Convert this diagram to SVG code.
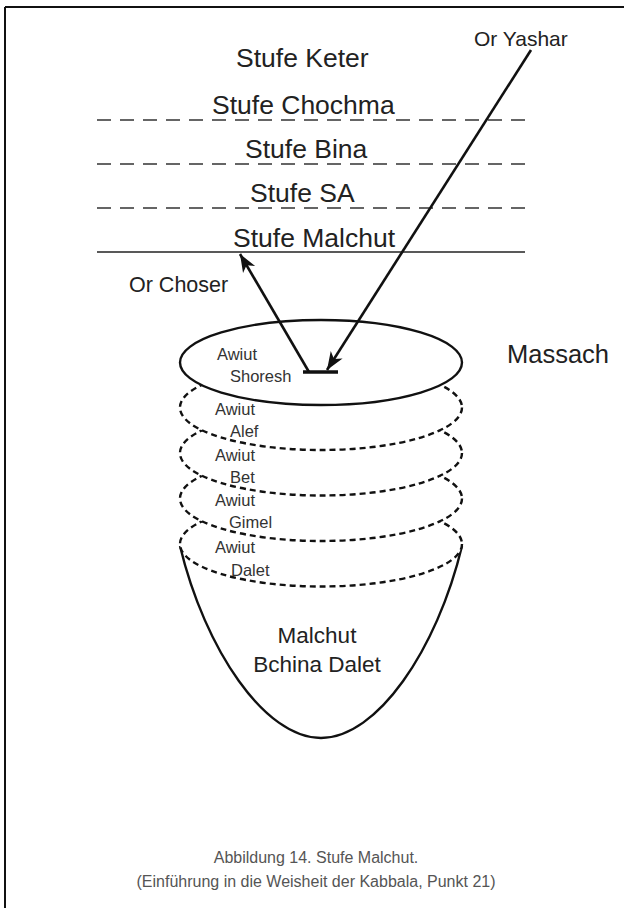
<svg xmlns="http://www.w3.org/2000/svg" width="624" height="908" viewBox="0 0 624 908">
<style>
text{font-family:"Liberation Sans",Arial,sans-serif;fill:#222}
.lvl{font-size:26.5px}
.sm{font-size:16.5px;fill:#333}
.cap{font-size:16px;fill:#555;text-anchor:middle}
.dash{stroke:#333;stroke-width:1.6;stroke-dasharray:14 9;fill:none}
.ring{fill:#fff;stroke:#111;stroke-width:2.4;stroke-dasharray:6 4}
.arr{stroke:#111;stroke-width:2.6;fill:none}
</style>
<defs>
<marker id="ah" markerUnits="userSpaceOnUse" viewBox="-20 -10 22 20" refX="0" refY="0" markerWidth="22" markerHeight="20" orient="auto">
<path d="M0,0 L-18,-7 L-13,0 L-18,7 Z" fill="#111"/>
</marker>
</defs>
<g id="frame">
<line x1="5" y1="7" x2="624" y2="7" stroke="#111" stroke-width="2"/>
<line x1="5" y1="7" x2="5" y2="908" stroke="#111" stroke-width="2"/>
</g>
<g id="levels">
<text class="lvl" x="236" y="67">Stufe Keter</text>
<text class="lvl" x="212" y="114">Stufe Chochma</text>
<line class="dash" x1="97" y1="120" x2="525" y2="120"/>
<text class="lvl" x="245" y="158">Stufe Bina</text>
<line class="dash" x1="97" y1="164" x2="525" y2="164"/>
<text class="lvl" x="250" y="202">Stufe SA</text>
<line class="dash" x1="97" y1="208" x2="525" y2="208"/>
<text class="lvl" x="233" y="247">Stufe Malchut</text>
<line x1="97" y1="252" x2="525" y2="252" stroke="#222" stroke-width="1.6"/>
</g>
<g id="bowl">
<path d="M180,546 C205,650 265,738 321,738 C377,738 437,650 462,546" fill="none" stroke="#111" stroke-width="2.4"/>
<text x="317" y="643" style="font-size:22.5px;text-anchor:middle">Malchut</text>
<text x="317" y="672" style="font-size:22.5px;text-anchor:middle">Bchina Dalet</text>
</g>
<g id="ring-dalet">
<ellipse class="ring" cx="321" cy="544" rx="141" ry="42.5"/>
<text class="sm" x="215" y="553">Awiut</text>
<text class="sm" x="231" y="576">Dalet</text>
</g>
<g id="ring-gimel">
<ellipse class="ring" cx="321" cy="498.5" rx="141" ry="42.5"/>
<text class="sm" x="215" y="506">Awiut</text>
<text class="sm" x="229" y="528">Gimel</text>
</g>
<g id="ring-bet">
<ellipse class="ring" cx="321" cy="453" rx="141" ry="42.5"/>
<text class="sm" x="215" y="461">Awiut</text>
<text class="sm" x="230" y="483">Bet</text>
</g>
<g id="ring-alef">
<ellipse class="ring" cx="321" cy="407.5" rx="141" ry="42.5"/>
<text class="sm" x="215" y="415">Awiut</text>
<text class="sm" x="230" y="437">Alef</text>
</g>
<g id="shoresh">
<ellipse cx="321" cy="362.5" rx="141" ry="42.5" fill="#fff" stroke="#111" stroke-width="2.4"/>
<text class="sm" x="217" y="360">Awiut</text>
<text class="sm" x="230" y="382">Shoresh</text>
</g>
<g id="massach"><text x="507" y="363" style="font-size:25.5px">Massach</text></g>
<g id="connectors">
<line class="arr" x1="531" y1="50" x2="327" y2="370" marker-end="url(#ah)"/>
<line class="arr" x1="309" y1="372" x2="240" y2="254" marker-end="url(#ah)"/>
<line x1="303" y1="372" x2="338" y2="372" stroke="#111" stroke-width="3.5"/>
</g>
<g id="labels">
<text x="474" y="46" style="font-size:21px">Or Yashar</text>
<text x="129" y="292" style="font-size:21.5px">Or Choser</text>
</g>
<g id="caption">
<text class="cap" x="316" y="863">Abbildung 14. Stufe Malchut.</text>
<text class="cap" x="316" y="887">(Einführung in die Weisheit der Kabbala, Punkt 21)</text>
</g>
</svg>
